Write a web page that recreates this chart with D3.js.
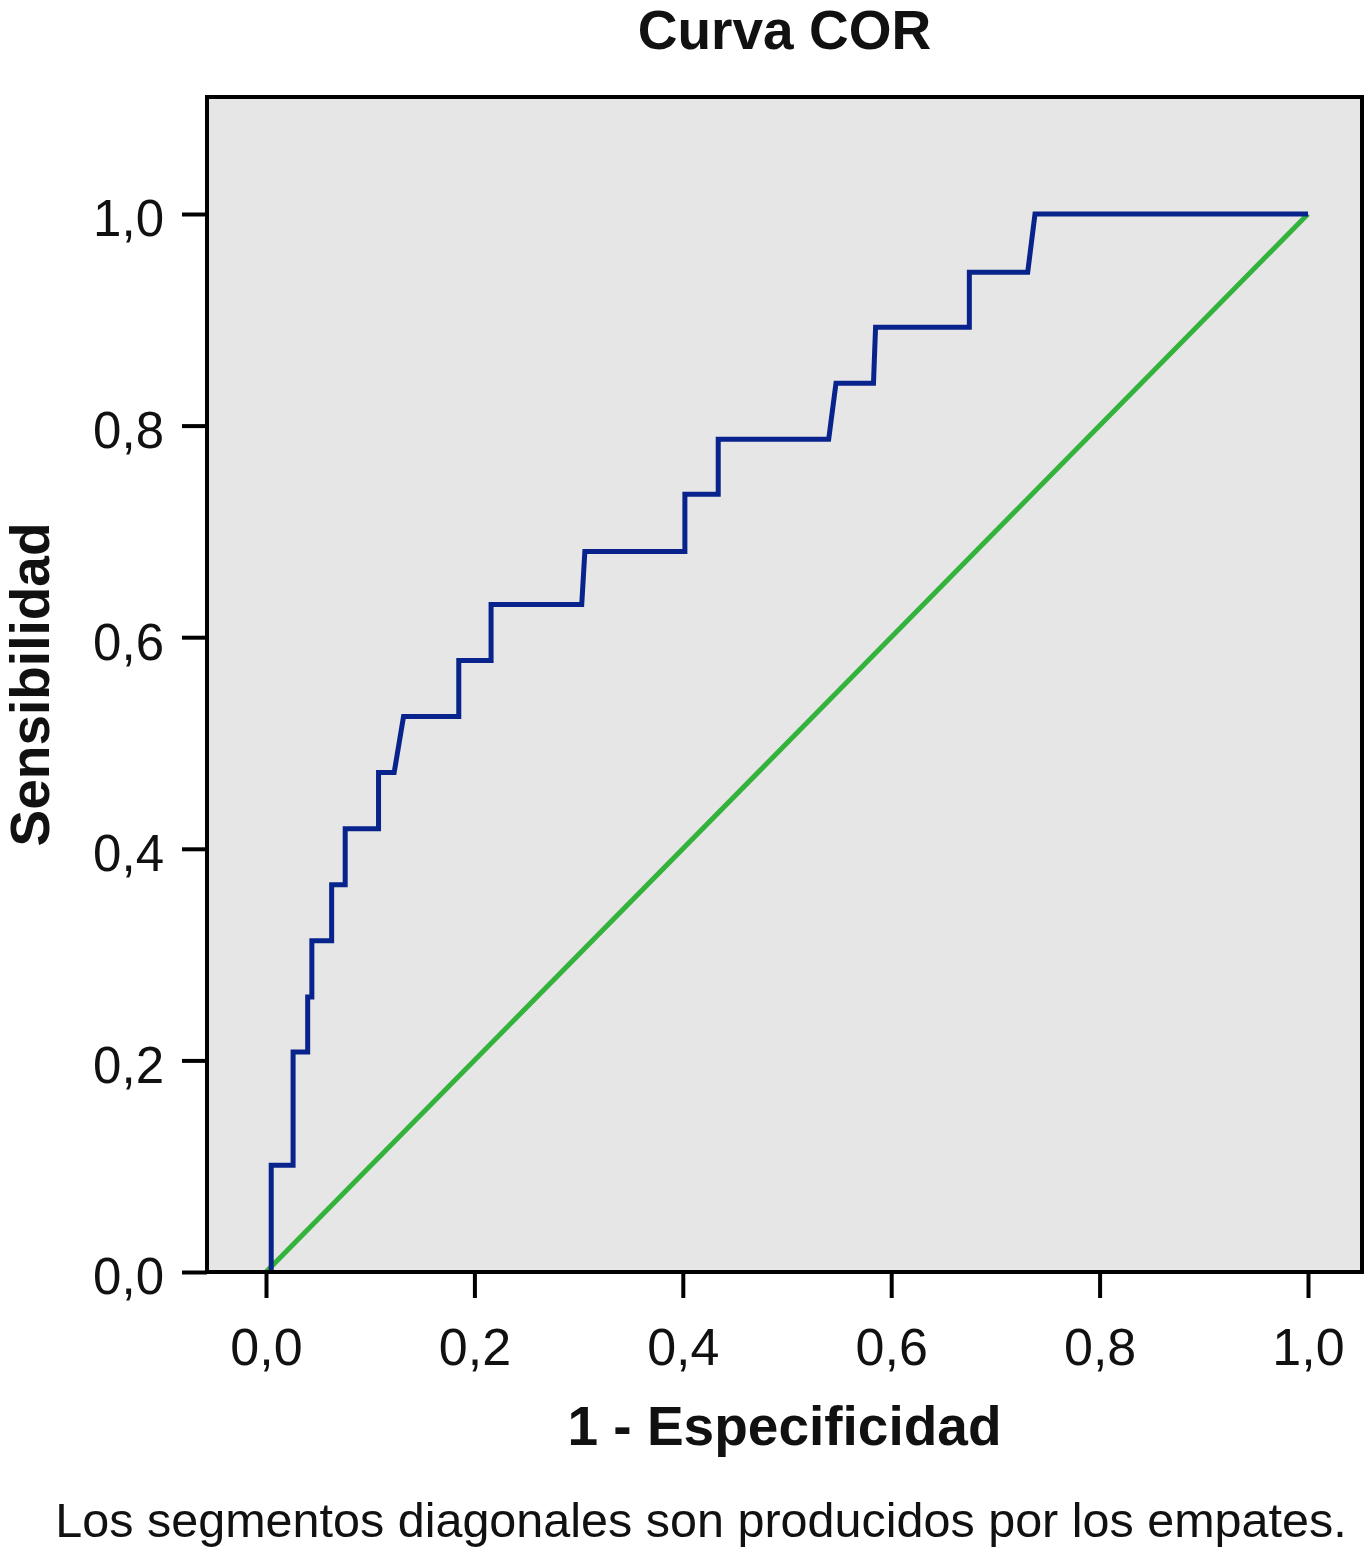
<!DOCTYPE html>
<html>
<head>
<meta charset="utf-8">
<script src="https://cdn.jsdelivr.net/npm/d3@7/dist/d3.min.js"></script>
<style>
  html, body { margin: 0; padding: 0; background: #ffffff; }
  svg { display: block; }
  text { font-family: "Liberation Sans", Arial, Helvetica, sans-serif; fill: #111; }
</style>
</head>
<body>
<svg id="chart" width="1368" height="1562"></svg>
<script>
// ---- Data ----
const rocX = [0.005, 0.005, 0.026, 0.026, 0.040, 0.040, 0.044, 0.044, 0.063, 0.063,
              0.076, 0.076, 0.108, 0.108, 0.123, 0.132, 0.185, 0.185, 0.216, 0.216,
              0.303, 0.306, 0.402, 0.402, 0.434, 0.434, 0.540, 0.547, 0.583, 0.585,
              0.675, 0.675, 0.731, 0.738, 1.000];
const rocY = [0.000, 0.101, 0.101, 0.208, 0.208, 0.260, 0.260, 0.313, 0.313, 0.366,
              0.366, 0.419, 0.419, 0.472, 0.472, 0.525, 0.525, 0.578, 0.578, 0.631,
              0.631, 0.681, 0.681, 0.735, 0.735, 0.787, 0.787, 0.840, 0.840, 0.893,
              0.893, 0.945, 0.945, 1.000, 1.000];
const refX = [0, 1];
const refY = [0, 1];
const xTicks = [0, 0.2, 0.4, 0.6, 0.8, 1.0];
const yTicks = [0, 0.2, 0.4, 0.6, 0.8, 1.0];
const titleText = "Curva COR";
const xLabel = "1 - Especificidad";
const yLabel = "Sensibilidad";
const footnote = "Los segmentos diagonales son producidos por los empates.";

// ---- Layout ----
const svg = d3.select("#chart");
const box = { left: 207, right: 1362, top: 97, bottom: 1272 };

const x = d3.scaleLinear().domain([0, 1]).range([266, 1308]);
const y = d3.scaleLinear().domain([0, 1]).range([1272, 214]);

const loc = d3.formatLocale({ decimal: ",", thousands: ".", grouping: [3], currency: ["", "€"] });
const fmt = loc.format(".1f");

// plot background
svg.append("rect")
  .attr("x", box.left).attr("y", box.top)
  .attr("width", box.right - box.left).attr("height", box.bottom - box.top)
  .attr("fill", "#e6e6e6");

// reference diagonal
const line = d3.line().x(d => x(d[0])).y(d => y(d[1])).curve(d3.curveLinear);
svg.append("path")
  .datum(refX.map((v, i) => [v, refY[i]]))
  .attr("d", line)
  .attr("fill", "none")
  .attr("stroke", "#33b23c")
  .attr("stroke-width", 5);

// ROC curve
svg.append("path")
  .datum(rocX.map((v, i) => [v, rocY[i]]))
  .attr("d", line)
  .attr("fill", "none")
  .attr("stroke", "#08248c")
  .attr("stroke-width", 5)
  .attr("stroke-linejoin", "miter");

// frame
svg.append("rect")
  .attr("x", box.left).attr("y", box.top)
  .attr("width", box.right - box.left).attr("height", box.bottom - box.top)
  .attr("fill", "none")
  .attr("stroke", "#000")
  .attr("stroke-width", 4);

// axes
const yAxis = d3.axisLeft(y).tickValues(yTicks).tickFormat(fmt).tickSize(25).tickPadding(18);
const gy = svg.append("g").attr("transform", `translate(${box.left},0)`).call(yAxis);
gy.select(".domain").remove();
gy.selectAll(".tick line").attr("stroke", "#000").attr("stroke-width", 4);
gy.selectAll(".tick text").attr("font-size", 51).attr("dy", "0.43em")
  .style("font-family", '"Liberation Sans", Arial, sans-serif').attr("fill", "#111");

const xAxis = d3.axisBottom(x).tickValues(xTicks).tickFormat(fmt).tickSize(26).tickPadding(30);
const gx = svg.append("g").attr("transform", `translate(0,${box.bottom})`).call(xAxis);
gx.select(".domain").remove();
gx.selectAll(".tick line").attr("stroke", "#000").attr("stroke-width", 4);
gx.selectAll(".tick text").attr("font-size", 52)
  .style("font-family", '"Liberation Sans", Arial, sans-serif').attr("fill", "#111");

// title
svg.append("text")
  .attr("x", (box.left + box.right) / 2).attr("y", 49)
  .attr("text-anchor", "middle")
  .attr("font-size", 55).attr("font-weight", "bold")
  .text(titleText);

// x label
svg.append("text")
  .attr("x", (box.left + box.right) / 2).attr("y", 1445)
  .attr("text-anchor", "middle")
  .attr("font-size", 55).attr("font-weight", "bold")
  .text(xLabel);

// y label
svg.append("text")
  .attr("transform", `translate(49,${(box.top + box.bottom) / 2}) rotate(-90)`)
  .attr("text-anchor", "middle")
  .attr("font-size", 55).attr("font-weight", "bold")
  .text(yLabel);

// footnote
svg.append("text")
  .attr("x", 701).attr("y", 1537)
  .attr("text-anchor", "middle")
  .attr("font-size", 48.5)
  .text(footnote);
</script>
</body>
</html>
